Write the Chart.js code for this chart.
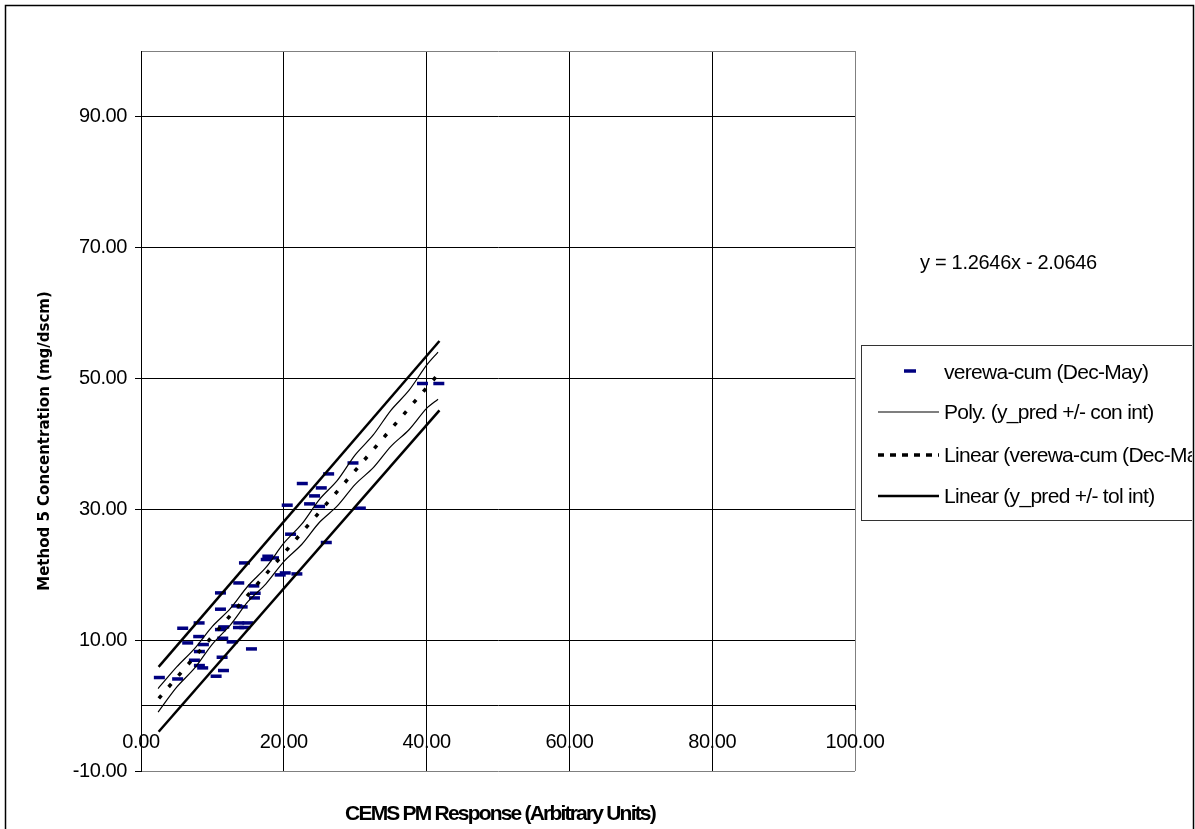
<!DOCTYPE html>
<html>
<head>
<meta charset="utf-8">
<script src="https://cdn.jsdelivr.net/npm/chart.js@4.4.1/dist/chart.umd.min.js"></script>
<style>
html,body{margin:0;padding:0;background:#fff;}
#wrap{width:1195px;height:829px;position:relative;}
</style>
</head>
<body>
<div id="wrap"><canvas id="c" width="1195" height="829"></canvas></div>
<script>
// ---------- data ----------
const pmResponse = [2.57, 5.13, 5.84, 6.54, 7.48, 8.14, 8.08, 8.74, 8.18, 8.18, 8.64, 10.52,
  11.13, 11.13, 11.13, 11.36, 11.45, 11.55, 11.59, 12.77, 13.41, 13.65, 13.69, 13.69, 14.17,
  14.49, 14.96, 14.53, 15.47, 15.80, 15.89, 15.99, 17.54, 17.76, 18.56, 19.50, 20.20, 20.48,
  20.95, 21.83, 22.59, 23.61, 24.31, 25.01, 25.25, 25.95, 26.28, 29.69, 30.72, 39.42, 41.71];
const m5Conc = [4.28, 4.06, 11.81, 9.57, 6.92, 12.62, 10.54, 9.32, 8.25, 6.11, 5.75, 4.48,
  17.21, 14.72, 11.61, 7.38, 10.28, 5.35, 12.01, 9.72, 15.22, 11.92, 18.73, 12.62, 15.07,
  21.79, 12.62, 11.92, 8.65, 18.28, 16.44, 17.16, 22.31, 22.81, 22.55, 19.96, 20.26, 30.61,
  26.18, 20.11, 33.92, 30.81, 32.03, 30.41, 33.25, 24.91, 35.39, 37.06, 30.15, 49.2, 49.2];

const conIntX     = [2.4, 5, 7.5, 10, 12.5, 15, 17.5, 20, 22.5, 25, 27.5, 30, 32.5, 35, 37.5, 40, 41.6];
const conIntUpper = [2.6, 5.9, 8.7, 12.1, 14.8, 18.3, 21.1, 24.8, 27.7, 31.5, 34.4, 38.3, 41.3, 45.1, 48.1, 52.0, 54.0];
const conIntLower = [-1.0, 2.8, 5.7, 9.4, 12.3, 15.9, 18.6, 22.0, 24.6, 28.0, 30.5, 33.8, 36.3, 39.6, 42.1, 45.4, 46.8];

const trendX = [2.5, 41.7];
const trendY = [1.1, 50.7];

const tolX     = [2.47, 41.8];
const tolUpper = [5.9, 55.7];
const tolLower = [-4.0, 45.1];

const xTickValues = [0, 20, 40, 60, 80, 100];
const yTickValues = [-10, 10, 30, 50, 70, 90, 100];

const seriesLabels = ['verewa-cum (Dec-May)', 'Poly. (y_pred +/- con int)',
  'Linear (verewa-cum (Dec-May))', 'Linear (y_pred +/- tol int)'];
const equationText = 'y = 1.2646x - 2.0646';
const xTitle = 'CEMS PM Response (Arbitrary Units)';
const yTitle = 'Method 5 Concentration (mg/dscm)';

// ---------- helpers ----------
const FONT = '"Liberation Sans", Arial, Helvetica, sans-serif';
const pts = (xs, ys) => xs.map((x, i) => ({x: x, y: ys[i]}));
const NAVY = '#000080';

const decorPlugin = {
  id: 'decor',
  beforeDraw(chart) {
    const ctx = chart.ctx;
    ctx.save();
    ctx.fillStyle = '#fff';
    ctx.fillRect(0, 0, chart.width, chart.height);
    ctx.restore();
    try { ctx.letterSpacing = '-0.4px'; } catch (e) {}
  },
  afterDraw(chart) {
    const ctx = chart.ctx;
    // outer border
    ctx.save();
    ctx.strokeStyle = '#000';
    ctx.lineWidth = 1.5;
    ctx.strokeRect(5.5, 5.5, 1188, 900);
    ctx.restore();

    // y title
    ctx.save();
    try { ctx.letterSpacing = '0px'; } catch (e) {}
    ctx.translate(45, 441);
    ctx.rotate(-Math.PI / 2);
    ctx.font = 'bold 15px "DejaVu Sans", sans-serif';
    ctx.fillStyle = '#000';
    ctx.textAlign = 'center';
    ctx.textBaseline = 'middle';
    ctx.fillText(yTitle, 0, 0);
    ctx.restore();

    // x title
    ctx.save();
    try { ctx.letterSpacing = '-1.8px'; } catch (e) {}
    ctx.font = 'bold 21px ' + FONT;
    ctx.fillStyle = '#000';
    ctx.textAlign = 'center';
    ctx.textBaseline = 'middle';
    ctx.fillText(xTitle, 500, 814);
    ctx.restore();

    // equation
    ctx.save();
    try { ctx.letterSpacing = '-0.3px'; } catch (e) {}
    ctx.font = '20px ' + FONT;
    ctx.fillStyle = '#000';
    ctx.textAlign = 'left';
    ctx.textBaseline = 'middle';
    ctx.fillText(equationText, 920, 263);
    ctx.restore();

    // legend
    ctx.save();
    ctx.beginPath();
    ctx.rect(0, 0, 1192, chart.height);
    ctx.clip();
    ctx.fillStyle = '#fff';
    ctx.fillRect(861.5, 345.5, 400, 175);
    ctx.strokeStyle = '#333';
    ctx.lineWidth = 1;
    ctx.strokeRect(861.5, 345.5, 400, 175);
    const ds = chart.data.datasets;
    const legendRows = [
      {di: 0, y: 372, kind: 'marker'},
      {di: 1, y: 412, kind: 'line'},
      {di: 3, y: 455, kind: 'line'},
      {di: 4, y: 496, kind: 'line'}
    ];
    legendRows.forEach(r => {
      const d = ds[r.di];
      ctx.save();
      if (r.kind === 'marker') {
        ctx.strokeStyle = d.borderColor;
        ctx.lineWidth = 3.5;
        ctx.beginPath();
        ctx.moveTo(904, r.y - 1);
        ctx.lineTo(916, r.y - 1);
        ctx.stroke();
      } else {
        ctx.strokeStyle = d.borderColor;
        ctx.lineWidth = d.borderWidth;
        if (d.borderDash && d.borderDash.length) ctx.setLineDash([6, 6]);
        ctx.beginPath();
        ctx.moveTo(878, r.y);
        ctx.lineTo(939, r.y);
        ctx.stroke();
      }
      ctx.restore();
      ctx.save();
      try { ctx.letterSpacing = '-0.7px'; } catch (e) {}
      ctx.font = '21px ' + FONT;
      ctx.fillStyle = '#000';
      ctx.textAlign = 'left';
      ctx.textBaseline = 'middle';
      ctx.fillText(d.label, 944, r.y + 1);
      ctx.restore();
    });
    ctx.restore();
  }
};

const chart = new Chart(document.getElementById('c'), {
  type: 'scatter',
  data: {
    datasets: [
      {
        label: seriesLabels[0],
        data: pts(pmResponse, m5Conc),
        showLine: false,
        pointStyle: 'line',
        pointRadius: 5.5,
        pointBorderWidth: 3.5,
        borderColor: NAVY,
        backgroundColor: NAVY,
        order: 2
      },
      {
        label: seriesLabels[1],
        data: pts(conIntX, conIntUpper),
        showLine: true, pointRadius: 0, borderColor: '#000', borderWidth: 1.2, tension: 0.3, order: 1
      },
      {
        label: seriesLabels[1],
        data: pts(conIntX, conIntLower),
        showLine: true, pointRadius: 0, borderColor: '#000', borderWidth: 1.2, tension: 0.3, order: 1
      },
      {
        label: seriesLabels[2],
        data: pts(trendX, trendY),
        showLine: true, pointRadius: 0, borderColor: '#000', borderWidth: 3.5,
        borderDash: [4, 11], order: 1
      },
      {
        label: seriesLabels[3],
        data: pts(tolX, tolUpper),
        showLine: true, pointRadius: 0, borderColor: '#000', borderWidth: 2.5, order: 1
      },
      {
        label: seriesLabels[3],
        data: pts(tolX, tolLower),
        showLine: true, pointRadius: 0, borderColor: '#000', borderWidth: 2.5, order: 1
      }
    ]
  },
  options: {
    responsive: false,
    animation: false,
    events: [],
    devicePixelRatio: 1,
    layout: {padding: {top: 51, right: 340, bottom: 58, left: 0}},
    plugins: {legend: {display: false}, tooltip: {enabled: false}},
    scales: {
      x: {
        type: 'linear',
        position: {y: 0},
        min: 0, max: 100,
        afterBuildTicks: s => { s.ticks = xTickValues.map(v => ({value: v})); },
        afterFit: s => { s.height = 0; },
        ticks: {
          callback: v => Number(v).toFixed(2),
          color: '#000',
          font: {family: FONT, size: 20},
          padding: 21,
          maxRotation: 0,
          autoSkip: false
        },
        grid: {
          color: c => (c.tick && c.tick.value === 100) ? '#808080' : '#000',
          tickColor: '#000',
          tickLength: 4,
          lineWidth: 1
        },
        border: {display: true, color: '#000', width: 1}
      },
      y: {
        type: 'linear',
        position: 'left',
        min: -10, max: 100,
        afterBuildTicks: s => { s.ticks = yTickValues.map(v => ({value: v})); },
        afterFit: s => { s.width = 141; },
        ticks: {
          callback: v => (v === 100 ? '' : Number(v).toFixed(2)),
          color: '#000',
          font: {family: FONT, size: 20},
          padding: 8,
          autoSkip: false
        },
        grid: {
          color: c => (c.tick && (c.tick.value === 100 || c.tick.value === -10)) ? '#808080' : '#000',
          tickColor: c => (c.tick && c.tick.value === 100) ? 'rgba(0,0,0,0)' : '#000',
          tickLength: 6,
          lineWidth: 1
        },
        border: {display: true, color: '#000', width: 1}
      }
    }
  },
  plugins: [decorPlugin]
});
</script>
</body>
</html>
